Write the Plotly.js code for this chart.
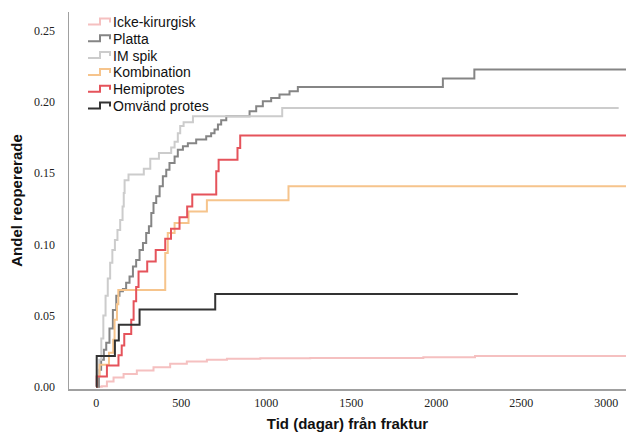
<!DOCTYPE html>
<html>
<head>
<meta charset="utf-8">
<script src="https://cdn.plot.ly/plotly-3.0.1.min.js"></script>
<style>html,body{margin:0;padding:0;background:#fff;}#chart{width:626px;height:435px;}</style>
</head>
<body>
<div id="chart"></div>
<script>
// Series names
var seriesNames = ["Icke-kirurgisk", "Platta", "IM spik", "Kombination", "Hemiprotes", "Omvänd protes"];

// Icke-kirurgisk
var ickeDays = [0, 33, 63, 102, 161, 239, 337, 435, 533, 651, 769, 965, 1259, 1924, 2228, 3140];
var ickeVals = [0, 0.0005, 0.0037, 0.0065, 0.0091, 0.0115, 0.0138, 0.0162, 0.0178, 0.019, 0.0197, 0.0200, 0.0203, 0.0208, 0.0217, 0.0217];

// Platta
var plattaDays = [0, 16, 29, 45, 59, 78, 98, 118, 137, 157, 176, 196, 216, 235, 255, 275, 294, 310, 324, 337, 353, 373, 392, 412, 431, 461, 480, 510, 539, 588, 647, 676, 696, 716, 735, 765, 902, 941, 980, 1029, 1078, 1137, 1186, 2039, 2224, 3140];
var plattaVals = [0, 0.012, 0.019, 0.026, 0.031, 0.041, 0.054, 0.064, 0.067, 0.0686, 0.073, 0.0775, 0.0845, 0.089, 0.096, 0.101, 0.108, 0.1126, 0.122, 0.129, 0.1337, 0.1407, 0.1477, 0.1524, 0.157, 0.1617, 0.1664, 0.1688, 0.171, 0.1735, 0.1758, 0.178, 0.1805, 0.184, 0.187, 0.1898, 0.1933, 0.1969, 0.2004, 0.2027, 0.2051, 0.2074, 0.2104, 0.2163, 0.2226, 0.2226];

// IM spik
var imDays = [0, 5, 18, 30, 42, 55, 68, 82, 95, 110, 125, 141, 155, 162, 167, 190, 280, 318, 369, 441, 461, 480, 494, 514, 569, 1094, 3073];
var imVals = [0, 0.008, 0.019, 0.034, 0.050, 0.064, 0.076, 0.087, 0.096, 0.103, 0.110, 0.117, 0.1266, 0.136, 0.145, 0.149, 0.153, 0.160, 0.164, 0.168, 0.172, 0.178, 0.183, 0.1856, 0.1898, 0.1957, 0.1957];

// Kombination
var kombDays = [0, 5, 20, 75, 100, 108, 122, 130, 406, 421, 461, 543, 651, 1131, 3140];
var kombVals = [0, 0.0075, 0.0155, 0.024, 0.033, 0.047, 0.058, 0.068, 0.094, 0.108, 0.115, 0.123, 0.131, 0.1407, 0.1407];

// Hemiprotes
var hemiDays = [0, 3, 63, 131, 150, 165, 206, 220, 235, 249, 300, 350, 406, 440, 490, 535, 565, 706, 720, 831, 847, 3140];
var hemiVals = [0, 0.0072, 0.0150, 0.0222, 0.0290, 0.0370, 0.0470, 0.0600, 0.0700, 0.0810, 0.0880, 0.0960, 0.1040, 0.1110, 0.1190, 0.1266, 0.1350, 0.1512, 0.1594, 0.1676, 0.1763, 0.1763];

// Omvänd protes
var omvDays = [0, 3, 110, 133, 255, 700, 2480];
var omvVals = [0, 0.0217, 0.0326, 0.0435, 0.0543, 0.0652, 0.0652];

// Axis ticks
var xTicks = [0, 500, 1000, 1500, 2000, 2500, 3000];
var yTicks = [0.00, 0.05, 0.10, 0.15, 0.20, 0.25];

var colors = ["#f5c0c0", "#858585", "#cccccc", "#f6c48c", "#e5535b", "#333333"];
var xs = [ickeDays, plattaDays, imDays, kombDays, hemiDays, omvDays];
var ys = [ickeVals, plattaVals, imVals, kombVals, hemiVals, omvVals];

var traces = seriesNames.map(function(n, i) {
  return {
    x: xs[i], y: ys[i], name: n, type: 'scatter', mode: 'lines',
    line: {shape: 'hv', color: colors[i], width: 2}, showlegend: false
  };
});

// Legend (step-shaped symbols like the original), placed in pixel terms converted to paper coords
var W = 626, H = 435, mL = 69, mR = 0, mT = 12, mB = 46;
var pw = W - mL - mR, ph = H - mT - mB;
function px2x(p) { return (p - mL) / pw; }
function py2y(p) { return 1 - (p - mT) / ph; }
var legTop = 21.5, legStep = 16.8;
var shapes = [], annotations = [];
seriesNames.forEach(function(n, i) {
  var cy = legTop + i * legStep;
  var pts = [[88, cy + 3], [100, cy + 3], [100, cy - 3], [110, cy - 3], [110, cy + 1]];
  var path = pts.map(function(p, k) { return (k ? 'L' : 'M') + px2x(p[0]).toFixed(5) + ',' + py2y(p[1]).toFixed(5); }).join(' ');
  shapes.push({type: 'path', xref: 'paper', yref: 'paper', path: path, line: {color: colors[i], width: 2}});
  annotations.push({xref: 'paper', yref: 'paper', x: px2x(111), y: py2y(cy + 0.5), xanchor: 'left', yanchor: 'middle',
    text: n, showarrow: false, font: {family: 'Liberation Sans, Arial, sans-serif', size: 14, color: '#111'}});
});

var layout = {
  width: W, height: H,
  margin: {l: mL, r: mR, t: mT, b: mB},
  paper_bgcolor: '#fff', plot_bgcolor: '#fff',
  showlegend: false,
  shapes: shapes, annotations: annotations,
  xaxis: {
    range: [-160, 3116], tickvals: xTicks, ticktext: xTicks.map(String),
    showgrid: false, zeroline: false, showline: true, linecolor: '#a0a0a0', linewidth: 1.5,
    ticks: 'outside', ticklen: 2, tickcolor: 'rgba(0,0,0,0)',
    tickfont: {family: 'Liberation Serif, Times New Roman, serif', size: 12, color: '#222'},
    title: {text: 'Tid (dagar) från fraktur', font: {family: 'Liberation Sans, Arial, sans-serif', size: 15, color: '#111', weight: 'bold'}, standoff: 9}
  },
  yaxis: {
    range: [-0.0015, 0.263], tickvals: yTicks, ticktext: yTicks.map(function(v){return v.toFixed(2);}),
    showgrid: false, zeroline: false, showline: true, linecolor: '#a0a0a0', linewidth: 1.5,
    ticks: 'outside', ticklen: 10, tickcolor: 'rgba(0,0,0,0)',
    tickfont: {family: 'Liberation Serif, Times New Roman, serif', size: 12, color: '#222'},
    title: {text: 'Andel reopererade', font: {family: 'Liberation Sans, Arial, sans-serif', size: 15, color: '#111', weight: 'bold'}, standoff: 8}
  }
};

Plotly.newPlot('chart', traces, layout, {displayModeBar: false, staticPlot: true});
</script>
</body>
</html>
